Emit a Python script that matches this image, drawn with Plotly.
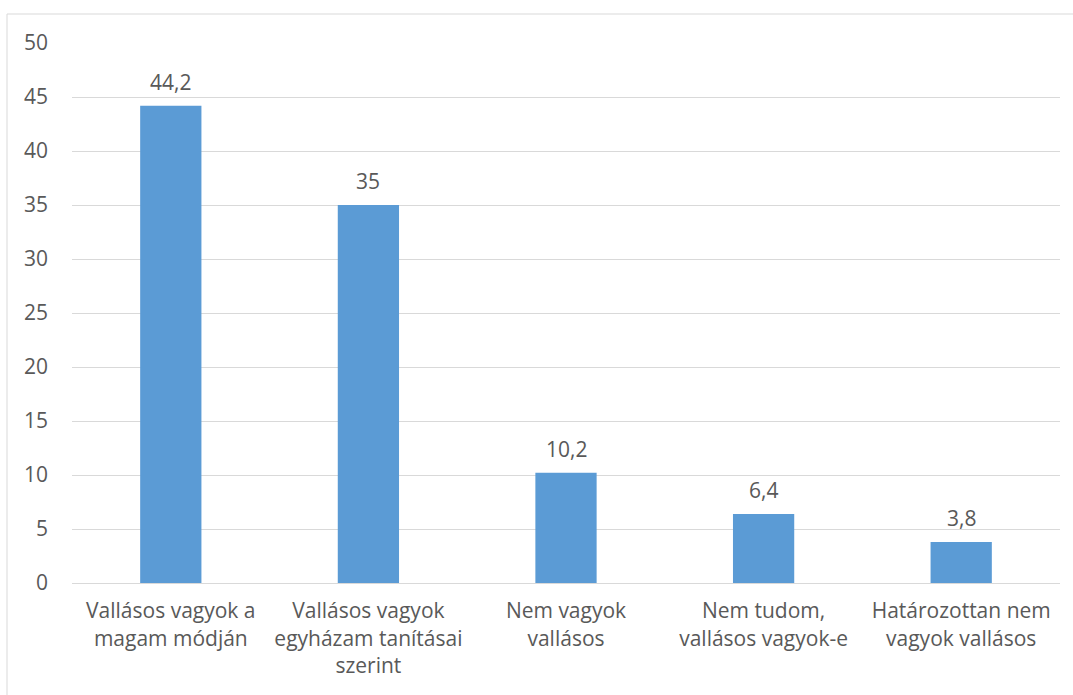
import plotly.graph_objects as go

# Survey answers about religiosity (percent)
categories = [
    "Vallásos vagyok a<br>magam módján",
    "Vallásos vagyok<br>egyházam tanításai<br>szerint",
    "Nem vagyok<br>vallásos",
    "Nem tudom,<br>vallásos vagyok-e",
    "Határozottan nem<br>vagyok vallásos",
]
values = [44.2, 35, 10.2, 6.4, 3.8]
y_ticks = [0, 5, 10, 15, 20, 25, 30, 35, 40, 45, 50]

W, H = 1073, 695
ML, MR, MT, MB = 72, 13, 43, 112
plot_w = W - ML - MR
plot_h = H - MT - MB

text_color = "#595959"
grid_color = "#D9D9D9"
font_family = "Open Sans, Liberation Sans, sans-serif"
fsize = 21

labels = [("%g" % v).replace(".", ",") for v in values]

fig = go.Figure(
    go.Bar(
        x=categories,
        y=values,
        marker=dict(color="#5B9BD5", line=dict(width=0)),
        hoverinfo="skip",
    )
)

# Value labels above each bar
for cat, v, lab in zip(categories, values, labels):
    fig.add_annotation(
        x=cat, y=v, text=lab,
        showarrow=False,
        yanchor="bottom",
        yshift=8,
        font=dict(color=text_color, size=fsize, family=font_family),
    )

# Chart-area frame
fig.add_shape(
    type="rect",
    xref="paper", yref="paper",
    x0=(7 - ML) / plot_w, x1=(W + 20 - ML) / plot_w,
    y0=-(MB + 20) / plot_h, y1=(H - MB - 14) / plot_h,
    line=dict(color=grid_color, width=1),
    fillcolor="rgba(0,0,0,0)",
    layer="below",
)

fig.update_layout(
    width=W,
    height=H,
    margin=dict(l=ML, r=MR, t=MT, b=MB),
    paper_bgcolor="white",
    plot_bgcolor="white",
    bargap=0.69,
    showlegend=False,
    font=dict(family=font_family, color=text_color, size=fsize),
    xaxis=dict(
        showline=True,
        linecolor=grid_color,
        linewidth=1,
        showgrid=False,
        ticks="",
        ticklabelstandoff=9,
        tickfont=dict(size=fsize, color=text_color),
    ),
    yaxis=dict(
        range=[0, 50],
        tickvals=y_ticks,
        showgrid=True,
        gridcolor=grid_color,
        gridwidth=1,
        zeroline=False,
        showline=False,
        ticks="",
        ticklabelstandoff=23,
        tickfont=dict(size=fsize, color=text_color),
    ),
)

fig.write_html("out.html")
